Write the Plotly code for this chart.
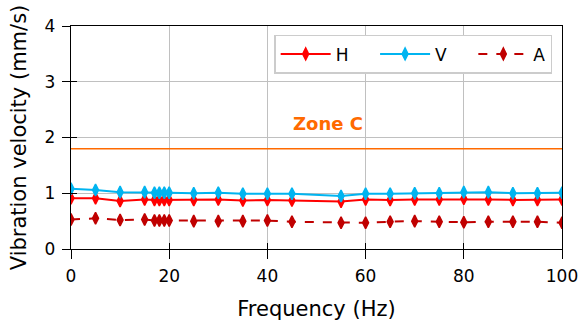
import plotly.graph_objects as go

freq = [0, 5, 10, 15, 17, 18, 19, 20, 25, 30, 35, 40, 45, 55, 60, 65, 70, 75, 80, 85, 90, 95, 100]
vel_h = [0.91, 0.91, 0.86, 0.89, 0.88, 0.88, 0.88, 0.88, 0.88, 0.89, 0.87, 0.88, 0.87,
         0.85, 0.89, 0.88, 0.89, 0.89, 0.90, 0.89, 0.88, 0.88, 0.89]
vel_v = [1.08, 1.06, 1.02, 1.02, 1.01, 1.01, 1.01, 1.01, 1.00, 1.01, 0.99, 0.99, 0.99,
         0.95, 0.99, 0.99, 1.00, 1.00, 1.02, 1.02, 1.00, 1.00, 1.01]
vel_a = [0.53, 0.55, 0.52, 0.53, 0.51, 0.51, 0.51, 0.51, 0.50, 0.50, 0.50, 0.51, 0.49,
         0.47, 0.47, 0.49, 0.50, 0.49, 0.48, 0.49, 0.49, 0.49, 0.47]
zone_c = 1.8
x_ticks = [0, 20, 40, 60, 80, 100]
y_ticks = [0, 1, 2, 3, 4]

FONT = "DejaVu Sans"
ZONE_COLOR = "#ff6a00"
PAD = "\u00a0" * 4  # spacing after legend labels

fig = go.Figure()

# Zone C boundary line
fig.add_trace(go.Scatter(x=[0, 100], y=[zone_c, zone_c], mode="lines",
                         line=dict(color=ZONE_COLOR, width=1.5),
                         showlegend=False, hoverinfo="skip"))

series = [
    ("H", vel_h, "#ff0000", "solid", PAD),
    ("V", vel_v, "#00b4f0", "solid", PAD),
    ("A", vel_a, "#c00000", "dash", ""),
]
for name, vals, color, dash, pad in series:
    fig.add_trace(go.Scatter(
        x=freq, y=vals, name=name + pad, mode="lines+markers",
        line=dict(color=color, width=2, dash=dash),
        marker=dict(symbol="diamond-tall", size=8.5, color=color,
                    line=dict(width=1.5, color=color)),
    ))

# invisible trace carrying the overlay axes used for inward tick marks
fig.add_trace(go.Scatter(x=[0], y=[0], xaxis="x2", yaxis="y2", mode="markers",
                         marker=dict(opacity=0), showlegend=False, hoverinfo="skip"))

fig.add_annotation(x=52.4, y=2.25, text="<b>Zone C</b>", showarrow=False,
                   font=dict(family=FONT, size=18, color=ZONE_COLOR),
                   bgcolor="white", borderpad=1)

axis_common = dict(
    showgrid=True, gridcolor="#c0c0c0", gridwidth=1.3,
    showline=True, linecolor="black", linewidth=1.3, mirror=True,
    ticks="outside", tickwidth=1.3, tickcolor="black",
    zeroline=False, automargin=False,
    tickfont=dict(family=FONT, size=17, color="black"),
)
inner_ticks = dict(
    showgrid=False, showline=False, zeroline=False, showticklabels=False,
    ticks="inside", ticklen=6, tickwidth=1.3, tickcolor="black", automargin=False,
)

fig.update_layout(
    width=581, height=324,
    margin=dict(l=71, r=19, t=26, b=75),
    paper_bgcolor="white", plot_bgcolor="white",
    font=dict(family=FONT, color="black"),
    xaxis=dict(range=[0, 100], tickvals=x_ticks, ticklen=9, ticklabelstandoff=2,
               title=dict(text="Frequency (Hz)", font=dict(family=FONT, size=21), standoff=16),
               **axis_common),
    yaxis=dict(range=[0, 4], tickvals=y_ticks, ticklen=8, ticklabelstandoff=3,
               title=dict(text="Vibration velocity (mm/s)", font=dict(family=FONT, size=21), standoff=12),
               **axis_common),
    xaxis2=dict(range=[0, 100], tickvals=x_ticks, overlaying="x", anchor="y", side="bottom",
                **inner_ticks),
    yaxis2=dict(range=[0, 4], tickvals=y_ticks, overlaying="y", anchor="x", side="left",
                **inner_ticks),
    legend=dict(orientation="h", x=0.98, y=0.96, xanchor="right", yanchor="top",
                bgcolor="white", bordercolor="#cccccc", borderwidth=1.5,
                font=dict(family=FONT, size=17),
                itemwidth=50, tracegroupgap=0),
)

fig.write_html("out.html")
